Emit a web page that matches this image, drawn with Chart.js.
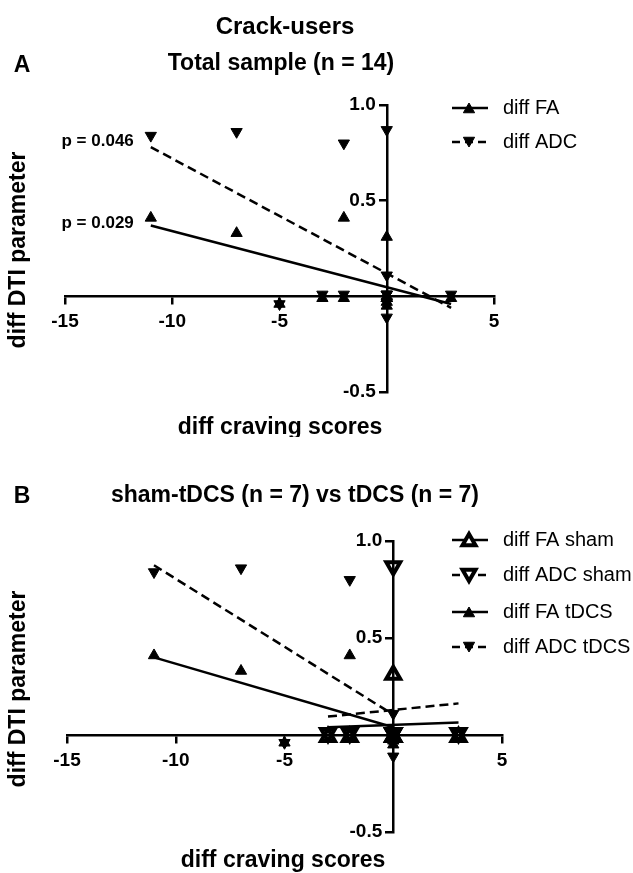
<!DOCTYPE html>
<html lang="en">
<head>
<meta charset="UTF-8">
<title>Crack-users</title>
<script src="https://cdn.jsdelivr.net/npm/chart.js"></script>
<style>
    body { margin: 0; background: #fff; }
    .painel { width: 633px; }
    canvas { display: block; }
</style>
</head>
<body>
<div class="painel"><canvas id="chartA" width="633" height="437"></canvas></div>
<div class="painel"><canvas id="chartB" width="633" height="436"></canvas></div>

<script>
// dados: diferenca de craving (x) e diferenca do parametro DTI (y)
const tdcsCraving = [-11, -7, -5, -2, 0, 0, 0];
const tdcsFA = [0.41, 0.33, -0.04, 0.41, 0.0, -0.03, -0.05];
const tdcsADC = [0.84, 0.86, -0.04, 0.80, 0.11, -0.11, -0.03];

const shamCraving = [-3, -2, 0, 0, 0, 0, 3];
const shamFA = [-0.01, -0.01, 0.31, -0.01, -0.01, -0.01, -0.01];
const shamADC = [0.01, 0.01, 0.87, 0.01, 0.01, 0.01, 0.01];

// retas de regressao (extremos)
const fitTotalX = [-11, 3];
const fitTotalFA = [0.37, -0.04];
const fitTotalADC = [0.78, -0.06];
const fitTdcsX = [-11, 0];
const fitTdcsFA = [0.40, 0.04];
const fitTdcsADC = [0.875, 0.105];
const fitShamX = [-3, 3];
const fitShamFA = [0.04, 0.065];
const fitShamADC = [0.095, 0.163];

// ticks dos eixos
const xTicks = [-15, -10, -5, 5];
const yTicks = [-0.5, 0.5, 1.0];

const FONTE = '"Liberation Sans", Arial, sans-serif';
Chart.defaults.font.family = FONTE;
Chart.defaults.color = '#000';

function pares(xs, ys) {
    return xs.map((x, i) => ({ x: x, y: ys[i] }));
}

function reta(xs, ys, tracejada) {
    return {
        data: pares(xs, ys),
        showLine: true,
        borderColor: '#000',
        borderWidth: 2.5,
        borderDash: tracejada ? [9, 5] : [],
        pointRadius: 0,
        fill: false
    };
}

// simbolo aberto = so o contorno grosso (interior transparente, como no Prism)
function pontos(xs, ys, baixo, aberto, raio) {
    return {
        data: pares(xs, ys),
        showLine: false,
        pointStyle: 'triangle',
        rotation: baixo ? 180 : 0,
        pointRadius: raio,
        pointBackgroundColor: aberto ? 'rgba(0,0,0,0)' : '#000',
        pointBorderColor: '#000',
        pointBorderWidth: aberto ? 4 : 1
    };
}

function escalas() {
    const grade = { drawOnChartArea: false, drawTicks: true, tickLength: 7, color: '#000', lineWidth: 2.5 };
    const borda = { display: true, color: '#000', width: 2.5 };
    return {
        x: {
            type: 'linear', min: -15, max: 5, position: { y: 0 },
            afterBuildTicks: s => { s.ticks = xTicks.map(v => ({ value: v })); },
            ticks: { font: { size: 19, weight: 'bold' }, color: '#000', padding: 7, autoSkip: false, maxRotation: 0 },
            grid: grade, border: borda
        },
        y: {
            type: 'linear', min: -0.5, max: 1.0, position: { x: 0 },
            afterBuildTicks: s => { s.ticks = yTicks.map(v => ({ value: v })); },
            ticks: { font: { size: 19, weight: 'bold' }, color: '#000', padding: 4, callback: v => v.toFixed(1) },
            grid: grade, border: borda
        }
    };
}

// com position {x: 0} o Chart.js encosta o rotulo no eixo: afasta para a esquerda do traco
const deslocaRotulosY = {
    id: 'deslocaRotulosY',
    beforeDraw(chart) {
        const itens = chart.scales.y.getLabelItems();
        if (itens.deslocado) return;
        itens.forEach(it => {
            if (it.options && it.options.translation) it.options.translation[0] -= 11;
        });
        itens.deslocado = true;
    }
};

function triangulo(ctx, x, y, r, baixo, aberto) {
    ctx.save();
    ctx.translate(x, y);
    if (baixo) ctx.rotate(Math.PI);
    ctx.beginPath();
    for (let i = 0; i < 3; i++) {
        const a = i * 2 * Math.PI / 3;
        ctx.lineTo(Math.sin(a) * r, -Math.cos(a) * r);
    }
    ctx.closePath();
    ctx.fillStyle = aberto ? '#fff' : '#000';
    ctx.fill();
    ctx.lineWidth = aberto ? 4 : 1;
    ctx.strokeStyle = '#000';
    ctx.setLineDash([]);
    ctx.stroke();
    ctx.restore();
}

// textos e legenda desenhados por cima do grafico
function textoFigura(textos, legenda) {
    return {
        id: 'textoFigura',
        afterDraw(chart) {
            const ctx = chart.ctx;
            ctx.save();
            ctx.fillStyle = '#000';
            ctx.textBaseline = 'middle';
            textos.forEach(t => {
                const x = typeof t.x === 'function' ? t.x(chart) : t.x;
                const y = typeof t.y === 'function' ? t.y(chart) : t.y;
                ctx.save();
                ctx.font = t.font;
                ctx.textAlign = t.align || 'center';
                ctx.translate(x, y);
                if (t.rot) ctx.rotate(t.rot);
                ctx.fillText(t.t, 0, 0);
                ctx.restore();
            });
            legenda.forEach(l => {
                ctx.save();
                ctx.strokeStyle = '#000';
                ctx.lineWidth = 2.5;
                ctx.setLineDash(l.dash ? [8, 5] : []);
                ctx.beginPath();
                ctx.moveTo(452, l.y);
                ctx.lineTo(488, l.y);
                ctx.stroke();
                ctx.restore();
                triangulo(ctx, 469, l.y + (l.baixo ? -1.5 : 1.5), l.raio, l.baixo, l.aberto);
                ctx.font = '20px ' + FONTE;
                ctx.textAlign = 'left';
                ctx.fillStyle = '#000';
                ctx.fillText(l.label, 503, l.y);
            });
            ctx.restore();
        }
    };
}

const negrito = size => 'bold ' + size + 'px ' + FONTE;

const opcoesBase = padding => ({
    responsive: false,
    animation: false,
    events: [],
    layout: { padding: padding },
    plugins: { legend: { display: false }, tooltip: { enabled: false } },
    scales: escalas()
});

// Painel A - amostra total
const totalCraving = tdcsCraving.concat(shamCraving);
const totalFA = tdcsFA.concat(shamFA);
const totalADC = tdcsADC.concat(shamADC);

new Chart(document.getElementById('chartA'), {
    type: 'scatter',
    data: {
        datasets: [
            reta(fitTotalX, fitTotalFA, false),
            reta(fitTotalX, fitTotalADC, true),
            pontos(totalCraving, totalFA, false, false, 6.5),
            pontos(totalCraving, totalADC, true, false, 6.5)
        ]
    },
    options: opcoesBase({ left: 65, right: 139, top: 105, bottom: 45 }),
    plugins: [deslocaRotulosY, textoFigura([
        { t: 'Crack-users', x: 285, y: 27, font: negrito(24) },
        { t: 'A', x: 22, y: 66, font: negrito(23) },
        { t: 'Total sample (n = 14)', x: 281, y: 64, font: negrito(23) },
        { t: 'diff DTI parameter', x: 19, y: 250, font: negrito(23), rot: -Math.PI / 2 },
        { t: 'diff craving scores', x: 280, y: 428, font: negrito(23) },
        { t: 'p = 0.046', align: 'right', font: negrito(17),
          x: c => c.scales.x.getPixelForValue(tdcsCraving[0]) - 17,
          y: c => c.scales.y.getPixelForValue(tdcsADC[0]) + 6 },
        { t: 'p = 0.029', align: 'right', font: negrito(17),
          x: c => c.scales.x.getPixelForValue(tdcsCraving[0]) - 17,
          y: c => c.scales.y.getPixelForValue(tdcsFA[0]) + 5 }
    ], [
        { label: 'diff FA', y: 108, dash: false, baixo: false, aberto: false, raio: 6.5 },
        { label: 'diff ADC', y: 142, dash: true, baixo: true, aberto: false, raio: 6.5 }
    ])]
});

// Painel B - sham-tDCS vs tDCS
new Chart(document.getElementById('chartB'), {
    type: 'scatter',
    data: {
        datasets: [
            reta(fitTdcsX, fitTdcsFA, false),
            reta(fitTdcsX, fitTdcsADC, true),
            reta(fitShamX, fitShamFA, false),
            reta(fitShamX, fitShamADC, true),
            pontos(tdcsCraving, tdcsFA, false, false, 6.5),
            pontos(tdcsCraving, tdcsADC, true, false, 6.5),
            pontos(shamCraving, shamFA, false, true, 8),
            pontos(shamCraving, shamADC, true, true, 8)
        ]
    },
    options: opcoesBase({ left: 67, right: 131, top: 104, bottom: 41 }),
    plugins: [deslocaRotulosY, textoFigura([
        { t: 'B', x: 22, y: 60, font: negrito(23) },
        { t: 'sham-tDCS (n = 7) vs tDCS (n = 7)', x: 295, y: 59, font: negrito(23) },
        { t: 'diff DTI parameter', x: 19, y: 252, font: negrito(23), rot: -Math.PI / 2 },
        { t: 'diff craving scores', x: 283, y: 424, font: negrito(23) }
    ], [
        { label: 'diff FA sham', y: 103, dash: false, baixo: false, aberto: true, raio: 7.5 },
        { label: 'diff ADC sham', y: 138, dash: true, baixo: true, aberto: true, raio: 7.5 },
        { label: 'diff FA tDCS', y: 175, dash: false, baixo: false, aberto: false, raio: 6.5 },
        { label: 'diff ADC tDCS', y: 210, dash: true, baixo: true, aberto: false, raio: 6.5 }
    ])]
});
</script>
</body>
</html>
